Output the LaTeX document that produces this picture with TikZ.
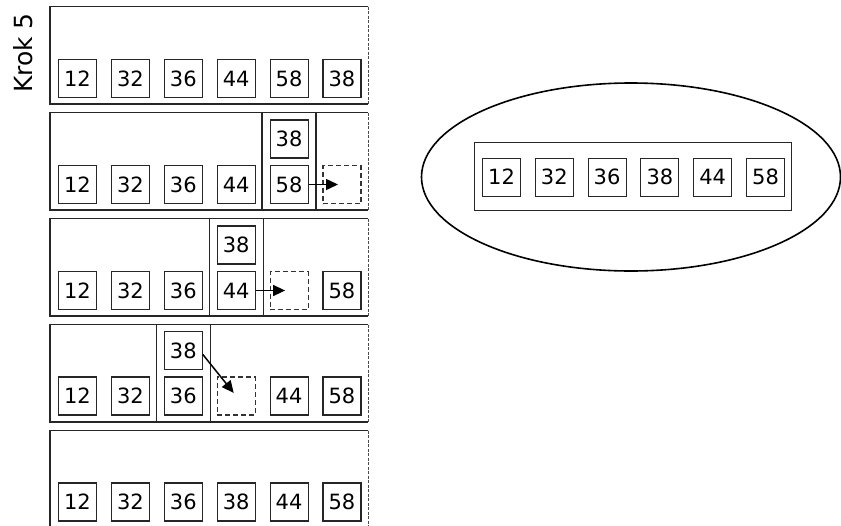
\documentclass[tikz,border=0pt]{standalone}
\usepackage{fontspec}
\setmainfont{DejaVu Sans}
\usetikzlibrary{arrows.meta,shapes.geometric}
\tikzset{
  cell/.style={draw=black!85, line width=1.1pt, minimum size=38pt, inner sep=0pt, font=\fontsize{21}{21}\selectfont},
  ghost/.style={draw=black!80, dash pattern=on 5pt off 3pt, line width=1.1pt, minimum size=38pt, inner sep=0pt},
  frame/.style={draw=black!85, line width=1.4pt},
  mv/.style={-{Triangle[length=12pt,width=11pt]}, line width=1.5pt, shorten >=4pt},
}
\begin{document}
\begin{tikzpicture}[x=1pt,y=-1pt]
\useasboundingbox (0,0) rectangle (841,525);
\node[rotate=90, font=\fontsize{25}{25}\selectfont] (krok) at (23,53) {Krok 5};
% panels
\foreach \i in {0,...,4}{
  \pgfmathsetmacro{\T}{6.5+106*\i}
  \pgfmathsetmacro{\B}{\T+97.5}
  \draw[frame] (368,\T) -- (50,\T) -- (50,\B) -- (368,\B);
  \draw[draw=black!70, line width=1pt, dash pattern=on 3pt off 1.5pt] (368,\T) -- (368,\B);
}
% column frames
\draw[frame] (262,112.5) rectangle (316,210);
\draw[frame] (209.2,218.5) rectangle (263.2,316);
\draw[frame] (156.3,324.5) rectangle (210.3,422);
% panel 1
\foreach \v [count=\j from 0] in {12,32,36,44,58,38}
  \node[cell] (a\j) at (77.5+52.9*\j,78.5) {\v};
% panel 2
\foreach \v [count=\j from 0] in {12,32,36,44,58}
  \node[cell] (b\j) at (77.5+52.9*\j,184.5) {\v};
\node[cell] (bt) at (289.1,139) {38};
\node[ghost] (bg) at (342,184.5) {};
\draw[mv] (b4.east) -- (bg.center);
% panel 3
\foreach \v [count=\j from 0] in {12,32,36,44}
  \node[cell] (c\j) at (77.5+52.9*\j,290.5) {\v};
\node[cell] (c5) at (342,290.5) {58};
\node[cell] (ct) at (236.2,245) {38};
\node[ghost] (cg) at (289.1,290.5) {};
\draw[mv] (c3.east) -- (cg.center);
% panel 4
\foreach \v [count=\j from 0] in {12,32,36}
  \node[cell] (d\j) at (77.5+52.9*\j,396) {\v};
\node[cell] (d4) at (289.1,396) {44};
\node[cell] (d5) at (342,396) {58};
\node[cell] (dt) at (183.3,350.5) {38};
\node[ghost] (dg) at (236.2,396) {};
\draw[mv] ([yshift=-4pt]dt.east) -- (dg.center);
% panel 5
\foreach \v [count=\j from 0] in {12,32,36,38,44,58}
  \node[cell] (e\j) at (77.5+52.9*\j,502) {\v};
% result
\node[draw, line width=1.6pt, ellipse, minimum width=419pt, minimum height=188pt, inner sep=0pt] (ell) at (631,177) {};
\node[frame, draw, minimum width=317.5pt, minimum height=68pt, inner sep=0pt] (res) at (633,176.7) {};
\foreach \v [count=\j from 0] in {12,32,36,38,44,58}
  \node[cell] (r\j) at (501.5+52.8*\j,177.2) {\v};
\end{tikzpicture}
\end{document}
